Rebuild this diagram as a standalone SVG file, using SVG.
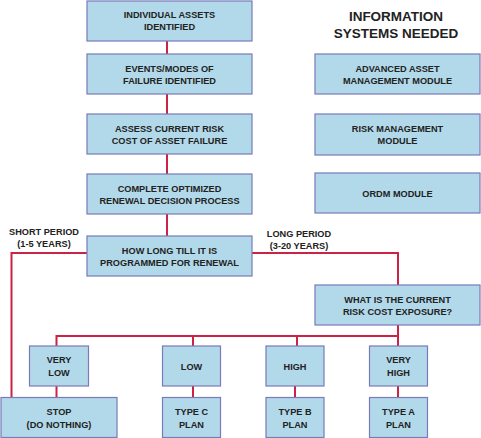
<svg xmlns="http://www.w3.org/2000/svg" width="481" height="438" viewBox="0 0 481 438">
<style>
.box{fill:#b2d9ea;stroke:#7a7ab8;stroke-width:1.2}
.t{font-family:"Liberation Sans",Arial,sans-serif;font-weight:bold;font-size:9.2px;fill:#222;text-anchor:middle}
.h{font-family:"Liberation Sans",Arial,sans-serif;font-weight:bold;font-size:13.5px;fill:#222;text-anchor:middle}
.c{fill:none;stroke:#cc2244;stroke-width:2}
</style>
<rect width="481" height="438" fill="#fff"/>
<g id="connectors">
<line class="c" x1="167" y1="41" x2="167" y2="54"/>
<line class="c" x1="167" y1="94" x2="167" y2="114"/>
<line class="c" x1="167" y1="154" x2="167" y2="174"/>
<line class="c" x1="167" y1="214" x2="167" y2="236"/>
<polyline class="c" points="87,253 11.5,253 11.5,397"/>
<polyline class="c" points="252,253 398,253 398,285"/>
<line class="c" x1="398" y1="325" x2="398" y2="346"/>
<polyline class="c" points="56.5,346 56.5,336 398,336"/>
<line class="c" x1="193" y1="336" x2="193" y2="346"/>
<line class="c" x1="297" y1="336" x2="297" y2="346"/>
<line class="c" x1="56.5" y1="386" x2="56.5" y2="397"/>
<line class="c" x1="193" y1="386" x2="193" y2="397"/>
<line class="c" x1="295" y1="386" x2="295" y2="397"/>
<line class="c" x1="398" y1="386" x2="398" y2="397"/>
<text class="t" x="44" y="235">SHORT PERIOD</text>
<text class="t" x="44" y="247">(1-5 YEARS)</text>
<text class="t" x="299" y="237">LONG PERIOD</text>
<text class="t" x="299" y="249">(3-20 YEARS)</text>
</g>
<g id="title">
<text class="h" x="396" y="21">INFORMATION</text>
<text class="h" x="396" y="38">SYSTEMS NEEDED</text>
</g>
<g id="n1"><rect class="box" x="87" y="1" width="165" height="40"/><text class="t" x="169.5" y="18">INDIVIDUAL ASSETS</text><text class="t" x="169.5" y="30">IDENTIFIED</text></g>
<g id="n2"><rect class="box" x="87" y="54" width="165" height="40"/><text class="t" x="169.5" y="71.5">EVENTS/MODES OF</text><text class="t" x="169.5" y="83.5">FAILURE IDENTIFIED</text></g>
<g id="n3"><rect class="box" x="87" y="114" width="165" height="40"/><text class="t" x="169.5" y="131.5">ASSESS CURRENT RISK</text><text class="t" x="169.5" y="143.5">COST OF ASSET FAILURE</text></g>
<g id="n4"><rect class="box" x="87" y="174" width="165" height="40"/><text class="t" x="169.5" y="191.5">COMPLETE OPTIMIZED</text><text class="t" x="169.5" y="203.5">RENEWAL DECISION PROCESS</text></g>
<g id="n5"><rect class="box" x="87" y="236" width="165" height="40"/><text class="t" x="169.5" y="253.5">HOW LONG TILL IT IS</text><text class="t" x="169.5" y="265.5">PROGRAMMED FOR RENEWAL</text></g>
<g id="s1"><rect class="box" x="315" y="54" width="165" height="40"/><text class="t" x="397.5" y="71.5">ADVANCED ASSET</text><text class="t" x="397.5" y="83.5">MANAGEMENT MODULE</text></g>
<g id="s2"><rect class="box" x="315" y="114" width="165" height="41"/><text class="t" x="397.5" y="131.5">RISK MANAGEMENT</text><text class="t" x="397.5" y="143.5">MODULE</text></g>
<g id="s3"><rect class="box" x="315" y="173" width="165" height="40"/><text class="t" x="397.5" y="196.5">ORDM MODULE</text></g>
<g id="n6"><rect class="box" x="315" y="285" width="165" height="40"/><text class="t" x="397.5" y="302.5">WHAT IS THE CURRENT</text><text class="t" x="397.5" y="314.5">RISK COST EXPOSURE?</text></g>
<g id="vl"><rect class="box" x="29.5" y="346" width="59" height="40"/><text class="t" x="59" y="363">VERY</text><text class="t" x="59" y="375.5">LOW</text></g>
<g id="lo"><rect class="box" x="162.5" y="346" width="58" height="40"/><text class="t" x="191.5" y="369.5">LOW</text></g>
<g id="hi"><rect class="box" x="266" y="346" width="58" height="40"/><text class="t" x="295" y="369.5">HIGH</text></g>
<g id="vh"><rect class="box" x="369.5" y="346" width="58" height="40"/><text class="t" x="398.5" y="363">VERY</text><text class="t" x="398.5" y="375.5">HIGH</text></g>
<g id="stop"><rect class="box" x="1" y="397.5" width="116" height="40"/><text class="t" x="59" y="415">STOP</text><text class="t" x="59" y="427.5">(DO NOTHING)</text></g>
<g id="tc"><rect class="box" x="162.5" y="397.5" width="58" height="40"/><text class="t" x="191.5" y="415">TYPE C</text><text class="t" x="191.5" y="427.5">PLAN</text></g>
<g id="tb"><rect class="box" x="266" y="397.5" width="58" height="40"/><text class="t" x="295" y="415">TYPE B</text><text class="t" x="295" y="427.5">PLAN</text></g>
<g id="ta"><rect class="box" x="369.5" y="397.5" width="58" height="40"/><text class="t" x="398.5" y="415">TYPE A</text><text class="t" x="398.5" y="427.5">PLAN</text></g>
</svg>
